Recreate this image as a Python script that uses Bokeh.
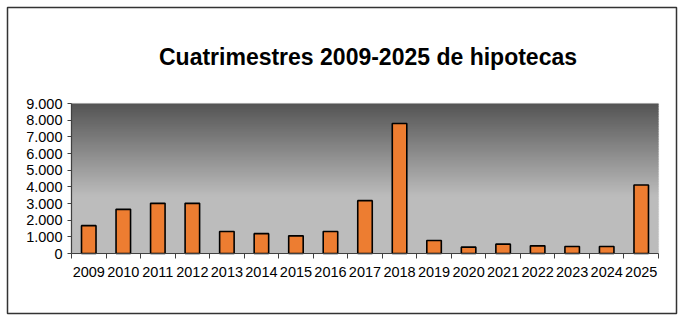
from bokeh.plotting import figure
from bokeh.models import FixedTicker, Range1d, BoxAnnotation, Label
from bokeh.embed import file_html
from bokeh.resources import INLINE

# ---- data ----
years = ["2009", "2010", "2011", "2012", "2013", "2014", "2015", "2016", "2017",
         "2018", "2019", "2020", "2021", "2022", "2023", "2024", "2025"]
values = [1670, 2650, 3010, 3010, 1320, 1190, 1060, 1320, 3170,
          7800, 780, 380, 560, 460, 420, 420, 4110]
y_ticks = [0, 1000, 2000, 3000, 4000, 5000, 6000, 7000, 8000, 9000]
y_tick_labels = ["0", "1.000", "2.000", "3.000", "4.000", "5.000",
                 "6.000", "7.000", "8.000", "9.000"]
title_text = "Cuatrimestres 2009-2025 de hipotecas"

FONT = "Liberation Sans"
n = len(years)
YMAX = 9000

# ---- layout (canvas pixels) ----
W, H = 683, 322
FR_L, FR_R, FR_T, FR_B = 7, 676, 7, 313      # outer chart border
PA_L, PA_R, PA_T, PA_B = 71, 658, 103, 253   # plot area
TITLE_CX, TITLE_Y = 367.5, 56

px_x = (PA_R - PA_L) / n
px_y = (PA_B - PA_T) / YMAX
x_range = Range1d(-(PA_L - FR_L) / px_x, n + (FR_R - PA_R) / px_x)
y_range = Range1d(-(FR_B - PA_B) / px_y, YMAX + (PA_T - FR_T) / px_y)

p = figure(width=W, height=H, output_backend="svg", toolbar_location=None,
           x_range=x_range, y_range=y_range,
           min_border_left=FR_L, min_border_right=W - FR_R,
           min_border_top=FR_T, min_border_bottom=H - FR_B)

p.background_fill_color = "white"
p.border_fill_color = "white"
p.outline_line_color = "#333333"
p.outline_line_width = 1.5
p.grid.visible = False

# vertical gradient background of plot area (style only)
nb = 90
bottoms, tops, cols = [], [], []
for i in range(nb):
    b = YMAX * i / nb
    t = YMAX * (i + 1) / nb
    frac_top = 1.0 - (b + t) / 2 / YMAX  # 0 at top, 1 at bottom
    k = min(frac_top / 0.62, 1.0)
    g = int(round(84 + (188 - 84) * k))
    bottoms.append(b)
    tops.append(min(t + YMAX / nb * 0.5, YMAX))
    cols.append("#%02x%02x%02x" % (g, g, g))
p.quad(left=0, right=n, bottom=bottoms, top=tops, fill_color=cols, line_color=None)

# plot-area outline
p.add_layout(BoxAnnotation(left=0, right=n, bottom=0, top=YMAX, fill_alpha=0,
                           line_color="#c4c4c4", line_width=1.5, level="underlay"))

# bars
xs = [i + 0.5 for i in range(n)]
p.vbar(x=xs, top=values, width=0.42, bottom=0, fill_color="#ED7D31",
       line_color="black", line_width=1.6)

# x axis
xa = p.xaxis[0]
xa.fixed_location = 0
xa.bounds = (0, n)
xa.ticker = FixedTicker(ticks=xs, minor_ticks=list(range(n + 1)))
xa.major_label_overrides = {x: y for x, y in zip(xs, years)}
xa.major_tick_out = 0
xa.major_tick_in = 0
xa.minor_tick_out = 5
xa.minor_tick_in = 0
xa.minor_tick_line_color = "#404040"
xa.axis_line_color = "#404040"
xa.axis_line_width = 1.2
xa.major_label_standoff = 8
xa.major_label_text_font = FONT
xa.major_label_text_font_size = "14.5px"
xa.major_label_text_color = "black"

# y axis
ya = p.yaxis[0]
ya.fixed_location = 0
ya.bounds = (0, YMAX)
ya.ticker = FixedTicker(ticks=y_ticks, minor_ticks=[])
ya.major_label_overrides = {t: l for t, l in zip(y_ticks, y_tick_labels)}
ya.major_tick_out = 4
ya.major_tick_in = 0
ya.major_tick_line_color = "#404040"
ya.axis_line_color = "#404040"
ya.axis_line_width = 1.2
ya.major_label_standoff = 5
ya.major_label_text_font = FONT
ya.major_label_text_font_size = "14.5px"
ya.major_label_text_color = "black"

# title
p.add_layout(Label(x=(TITLE_CX - PA_L) / px_x, y=YMAX + (PA_T - TITLE_Y) / px_y,
                   text=title_text, text_align="center", text_baseline="alphabetic",
                   text_font=FONT, text_font_size="23px", text_font_style="bold",
                   text_color="black"))

open("out.html", "w").write(file_html(p, INLINE))
